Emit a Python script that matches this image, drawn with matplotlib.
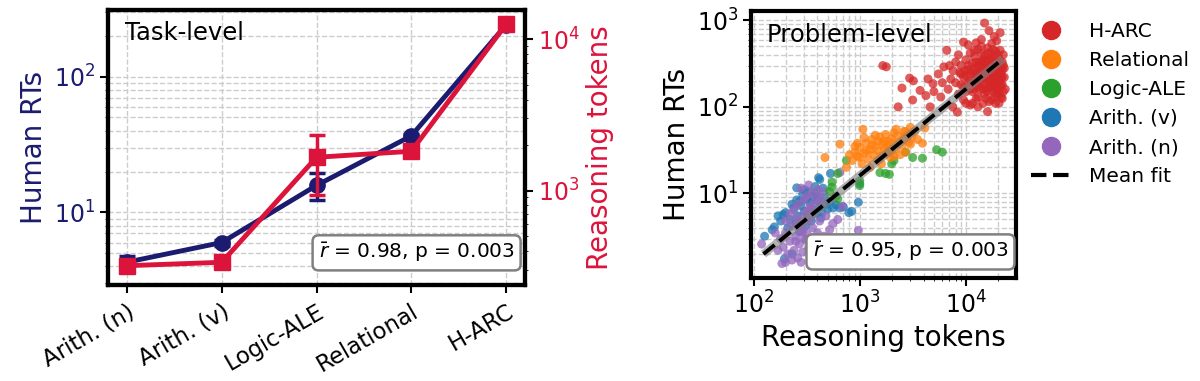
import matplotlib.pyplot as plt
from matplotlib.lines import Line2D
import numpy as np

# ---- task-level data ----
tasks = ['Arith. (n)', 'Arith. (v)', 'Logic-ALE', 'Relational', 'H-ARC']
human_rt = [4.3, 6.0, 15.8, 36.6, 240]
human_rt_lo = [0.45, 0.3, 3.5, 1.5, 8]
human_rt_hi = [0.5, 0.3, 3.7, 1.5, 8]
tokens = [318, 335, 1660, 1820, 12600]
tokens_lo = [10, 10, 725, 60, 300]
tokens_hi = [10, 10, 680, 60, 300]

# ---- problem-level data (tokens, RT) ----
harc = [(1650, 300), (1780, 290), (2950, 215), (3200, 200), (2500, 165), (2300, 100),
        (3150, 120), (4200, 135), (4600, 100), (4900, 185), (5500, 240), (6200, 290),
        (6600, 450), (9500, 560), (15000, 930), (16500, 760), (21000, 720), (18500, 650),
        (8300, 87), (11000, 105), (16000, 88), (7500, 100), (5800, 130), (6800, 160),
        (7200, 210), (8000, 330), (8800, 250), (3700, 155), (4400, 210),
        (9000, 180), (9500, 220), (10000, 150), (10500, 270), (11000, 200), (11500, 320),
        (12000, 160), (12500, 240), (13000, 130), (13500, 290), (14000, 190), (14500, 350),
        (15000, 140), (15500, 250), (16000, 210), (16500, 170), (17000, 300), (17500, 120),
        (18000, 230), (18500, 380), (19000, 160), (19500, 270), (20000, 200), (20500, 140),
        (21000, 330), (21500, 250), (22000, 180), (22500, 400), (10000, 350), (11000, 420),
        (12000, 380), (13000, 460), (14000, 410), (15000, 300), (16000, 480), (17000, 420),
        (18000, 340), (19000, 440), (20000, 300), (21000, 450), (9500, 120), (11500, 110),
        (12500, 125), (14500, 110), (16500, 115), (18500, 130), (20500, 110), (22000, 125),
        (10500, 190), (12000, 280), (13500, 200), (15000, 180), (16500, 260), (18000, 150),
        (19500, 210), (21000, 170), (8500, 140), (9000, 300), (8000, 190), (7600, 260),
        (10500, 520), (12500, 550), (14000, 600), (17500, 540), (19500, 580), (22500, 300),
        (23000, 220), (23500, 160), (21500, 130), (13000, 230), (14000, 260), (15500, 220),
        (17000, 190), (18500, 200), (20000, 240), (16000, 150), (12000, 200), (13000, 170),
        (15000, 270), (17500, 250), (19000, 320), (14500, 160), (11000, 240), (20500, 360),
        (22000, 270), (9800, 260), (16000, 340), (18000, 280), (15000, 390), (13500, 330),
        (17000, 360), (19500, 180), (21000, 210),
        (11500, 150), (12500, 190), (13500, 250), (14500, 220), (15500, 160), (16500, 200),
        (17500, 170), (18500, 240), (19500, 140), (20500, 190), (21500, 220), (22500, 150),
        (12000, 240), (13000, 300), (14000, 330), (15000, 230), (16000, 280), (17000, 230),
        (18000, 190), (19000, 260), (20000, 160), (21000, 280), (22000, 220), (23000, 280),
        (10000, 230), (10500, 300), (11000, 160), (11500, 260), (12500, 330), (13500, 160),
        (14500, 290), (15500, 340), (16500, 230), (17500, 300), (18500, 170), (19500, 230),
        (20500, 270), (21500, 180), (9000, 240), (9500, 170), (12000, 450), (14000, 500),
        (16000, 420), (18000, 460), (20000, 400), (22000, 330), (7000, 300), (6000, 190),
        (5000, 150), (8500, 400), (10000, 110), (13000, 100), (15500, 125), (19000, 110)]
relational = [(470, 26), (650, 37), (1070, 55), (4100, 57), (3900, 38), (750, 20), (3000, 58),
              (2600, 52), (850, 24), (900, 30), (950, 27), (1000, 34), (1050, 22), (1100, 29),
              (1150, 38), (1200, 25), (1250, 32), (1300, 42), (1350, 28), (1400, 35), (1450, 24),
              (1500, 31), (1550, 45), (1600, 27), (1650, 37), (1700, 33), (1750, 48), (1800, 29),
              (1850, 40), (1900, 35), (1950, 26), (2000, 43), (2050, 38), (2100, 50), (2200, 33),
              (2300, 46), (2400, 40), (2500, 36), (2600, 44), (2700, 30), (2800, 48), (2900, 39),
              (3100, 45), (3300, 52), (3500, 42), (1100, 44), (1250, 20), (1400, 47), (1600, 22),
              (800, 28), (950, 38), (1700, 40), (2000, 30), (2200, 55), (2400, 28), (1300, 36),
              (1150, 31), (1500, 40), (2700, 52), (3000, 37), (1850, 32), (2100, 27), (1000, 26),
              (900, 35)]
logic = [(750, 24), (550, 13.5), (545, 11.8), (600, 9.3), (620, 8.6), (1000, 12.3), (1000, 14),
         (1550, 17.4), (1900, 16.6), (1750, 17), (2000, 22), (2100, 24), (3150, 26), (3900, 25.5),
         (5300, 32), (6000, 30), (620, 17), (520, 10.5), (2700, 30)]
arith_v = [(127, 3.2), (157, 4.1), (190, 5.7), (195, 1.75), (230, 2.0), (255, 11.6), (420, 14.5),
           (530, 17), (1000, 13), (970, 7.9), (840, 6.2), (790, 6.0), (700, 7), (600, 7.4),
           (410, 15.2), (255, 8.4), (315, 8.6), (365, 9.2), (200, 6.0), (220, 5.0), (240, 6.8),
           (260, 5.5), (280, 7.2), (300, 6.2), (320, 5.2), (340, 7.8), (360, 6.5), (380, 5.8),
           (400, 8.2), (420, 7.0), (440, 6.0), (460, 9.0), (480, 7.5), (500, 6.6), (250, 4.5),
           (270, 8.0), (290, 9.8), (310, 4.2), (330, 10.5), (350, 4.8), (230, 7.5), (210, 4.0),
           (390, 10.0), (430, 5.2), (520, 8.0), (560, 6.8), (650, 6.8), (180, 4.8), (170, 5.5),
           (150, 3.8), (270, 3.6), (380, 12.0), (300, 11.0), (450, 11.5)]
arith_n = [(185, 1.55), (200, 1.6), (119, 2.6), (970, 3.75), (690, 7.1), (650, 17.5),
           (180, 3.0), (190, 2.4), (200, 3.5), (210, 2.0), (220, 2.8), (230, 4.2), (240, 2.2),
           (250, 3.2), (260, 1.8), (270, 2.6), (280, 3.8), (290, 2.1), (300, 4.5), (310, 2.9),
           (320, 3.4), (330, 2.3), (340, 5.0), (350, 3.0), (360, 4.0), (370, 2.5), (380, 6.0),
           (400, 3.5), (420, 4.8), (440, 2.8), (460, 3.2), (480, 5.5), (500, 2.4), (200, 4.8),
           (220, 5.8), (240, 6.5), (260, 7.5), (280, 5.2), (300, 8.5), (320, 9.5), (340, 7.0),
           (360, 10.0), (380, 8.0), (400, 11.0), (420, 9.0), (440, 7.8), (460, 10.5), (250, 2.8),
           (270, 4.4), (290, 3.6), (310, 6.2), (330, 5.6), (350, 6.8), (170, 2.2), (160, 3.5),
           (230, 1.7), (280, 1.6), (250, 5.0), (300, 3.0), (400, 2.0), (520, 3.8), (560, 4.5),
           (620, 5.0), (330, 12.5), (280, 11.5)]

# mean fit in log-log space: log10(RT) = slope*log10(tokens) + intercept
fit_slope = 1.0
fit_intercept = -1.794
fit_range = (124, 22300)

navy = '#1b1b6f'
crimson = '#dc143c'
grid_kw = dict(color='#cccccc', linestyle='--', linewidth=1)

fig = plt.figure(figsize=(12, 3.81), dpi=100)

# ---------- left panel ----------
ax = fig.add_axes([0.09, 0.252, 0.3475, 0.722])
x = np.arange(len(tasks))
ax.errorbar(x, human_rt, yerr=[human_rt_lo, human_rt_hi], color=navy, marker='o',
            markersize=11, lw=3.5, capsize=6, capthick=2.5, elinewidth=2.5)
ax.set_yscale('log')
ax.set_ylim(2.92, 310)
ax.set_xticks(x)
ax.set_xticklabels(tasks, rotation=30, ha='right', rotation_mode='anchor')
ax.set_ylabel('Human RTs', color=navy, fontsize=20)
ax.tick_params(axis='y', colors=navy, labelsize=17)
ax.tick_params(axis='y', which='both', color='black')
ax.tick_params(axis='x', labelsize=16.5, pad=5)
ax.tick_params(which='major', length=6, width=1.5)
ax.grid(True, which='both', axis='y', **grid_kw)
ax.grid(True, which='major', axis='x', **grid_kw)
ax.set_axisbelow(True)
for s in ax.spines.values():
    s.set_linewidth(3)
ax.text(0.04, 0.96, 'Task-level', transform=ax.transAxes, fontsize=17.5, va='top')
ax.text(0.975, 0.075, r'$\bar{r}$ = 0.98, p = 0.003', transform=ax.transAxes,
        fontsize=14.5, ha='right', va='bottom',
        bbox=dict(boxstyle='round,pad=0.3', facecolor='white', edgecolor='gray', lw=1.8))

ax2 = ax.twinx()
ax2.errorbar(x, tokens, yerr=[tokens_lo, tokens_hi], color=crimson, marker='s',
             markersize=11.5, lw=3.5, capsize=6, capthick=2.5, elinewidth=2.5)
ax2.set_yscale('log')
ax2.set_ylim(237, 15700)
ax2.set_ylabel('Reasoning tokens', color=crimson, fontsize=20)
ax2.tick_params(axis='y', labelcolor=crimson, labelsize=17)
ax2.tick_params(which='major', length=6, width=1.5)
for s in ax2.spines.values():
    s.set_linewidth(3)

# ---------- right panel ----------
bx = fig.add_axes([0.626, 0.270, 0.221, 0.701])
groups = [('Arith. (v)', arith_v, '#1f77b4'), ('Arith. (n)', arith_n, '#9467bd'),
          ('Logic-ALE', logic, '#2ca02c'), ('Relational', relational, '#ff7f0e'),
          ('H-ARC', harc, '#d62728')]
for name, pts, col in groups:
    t = [p[0] for p in pts]
    r = [p[1] for p in pts]
    bx.scatter(t, r, s=42, color=col, alpha=0.75, edgecolors='none', zorder=2)

xf = np.array(fit_range)
yf = 10 ** (fit_slope * np.log10(xf) + fit_intercept)
bx.plot(xf, yf, color='gray', lw=6, alpha=0.6, solid_capstyle='butt', zorder=3)
bx.plot(xf, yf, color='black', lw=2.8, ls='--', zorder=4)

bx.set_xscale('log')
bx.set_yscale('log')
bx.set_xlim(95, 29900)
bx.set_ylim(1.05, 1280)
bx.set_xlabel('Reasoning tokens', fontsize=20)
bx.set_ylabel('Human RTs', fontsize=20)
bx.tick_params(labelsize=17)
bx.tick_params(which='major', length=6, width=1.5)
bx.grid(True, which='both', **grid_kw)
bx.set_axisbelow(True)
for s in bx.spines.values():
    s.set_linewidth(3)
bx.text(0.057, 0.955, 'Problem-level', transform=bx.transAxes, fontsize=17.5, va='top')
bx.text(0.97, 0.055, r'$\bar{r}$ = 0.95, p = 0.003', transform=bx.transAxes,
        fontsize=14.5, ha='right', va='bottom', zorder=5,
        bbox=dict(boxstyle='round,pad=0.3', facecolor='white', edgecolor='gray', lw=1.8))

legend_order = ['H-ARC', 'Relational', 'Logic-ALE', 'Arith. (v)', 'Arith. (n)']
colors = {g[0]: g[2] for g in groups}
handles = [Line2D([], [], ls='none', marker='o', markersize=13, color=colors[n], label=n)
           for n in legend_order]
handles.append(Line2D([], [], color='black', ls='--', lw=3, label='Mean fit'))
bx.legend(handles=handles, loc='upper left', bbox_to_anchor=(1.023, 0.99), frameon=False,
          fontsize=14.5, handlelength=2.0, handletextpad=0.9, labelspacing=0.5,
          borderaxespad=0)

fig.savefig('out.png', dpi=100)
